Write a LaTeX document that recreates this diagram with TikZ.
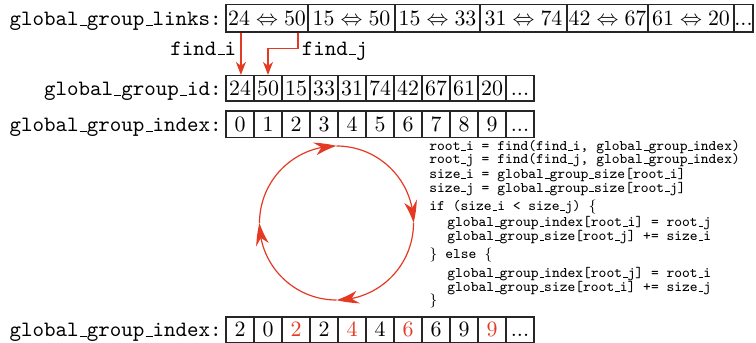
\documentclass[tikz,border=0pt]{standalone}
\usetikzlibrary{arrows.meta,calc,bending}
\definecolor{hl}{RGB}{228,58,36}
\newcommand\us{\leavevmode\kern0.12\fontcharwd\font`a\vbox{\hrule width0.6\fontcharwd\font`a}}
\newcommand\mydots{...}
\begin{document}
\begin{tikzpicture}[x=0.5pt,y=-0.5pt,
  cell/.style={draw=black!85,line width=0.6pt,inner sep=0pt,text height=7.05pt,text depth=0pt,
    font=\fontsize{10.95}{13}\selectfont},
  cw/.style={minimum width=#1*0.5pt},
  ch/.style={minimum height=#1*0.5pt},
  lab/.style={anchor=base east,inner sep=0pt,font=\fontsize{10.95}{13}\selectfont\ttfamily},
  code/.style={anchor=base west,inner sep=0pt,font=\fontsize{7.33}{9}\selectfont\ttfamily},
  fl/.style={draw=hl,line width=0.7pt,-{Stealth[length=6.5pt,width=5pt,inset=2pt]}},
  cl/.style={draw=hl,line width=0.6pt,-{Stealth[length=11pt,width=6.5pt,inset=3.5pt,bend]}}]
\useasboundingbox (0,0) rectangle (756,343);

% row 1: links
\foreach \c/\w/\t [count=\i] in {267/82/{$24\Leftrightarrow50$},351.5/87/{$15\Leftrightarrow50$},
  437.5/85/{$15\Leftrightarrow33$},523.5/87/{$31\Leftrightarrow74$},607.5/81/{$42\Leftrightarrow67$},
  691/86/{$61\Leftrightarrow20$},743.5/19/{\mydots}}
  \node[cell,cw=\w,ch=27.5] (l\i) at (\c,18.25) {\t};

% row 2: ids
\foreach \t [count=\i] in {24,50,15,33,31,74,42,67,61,20,\mydots}
  \node[cell,cw=28,ch=25.5] (id\i) at (226+28*\i-14,88.25) {\t};

% row 3: index
\foreach \t [count=\i] in {0,1,2,3,4,5,6,7,8,9,\mydots}
  \node[cell,cw=28,ch=26.5] (ix\i) at (226+28*\i-14,124.25) {\t};

% row 4: new index
\foreach \t [count=\i] in {2,0,\textcolor{hl}{2},2,\textcolor{hl}{4},4,\textcolor{hl}{6},6,9,\textcolor{hl}{9},\mydots}
  \node[cell,cw=28,ch=25.5] (nx\i) at (226+28*\i-14,329.75) {\t};

% labels
\node[lab] (lab1) at (222,25.3) {global\us group\us links:};
\node[lab] (lab2) at (222,95.3) {global\us group\us id:};
\node[lab] (lab3) at (222,131.3) {global\us group\us index:};
\node[lab] (lab4) at (222,336.8) {global\us group\us index:};

% find arrows
\coordinate (fi) at ($(l1.south west)+(15.5,0)$);
\draw[fl] (fi) -- (fi |- id1.north);
\coordinate (fj) at ($(l1.south east)+(-10.5,0)$);
\draw[fl] (fj) -- ++(0,16) -| (id2.north);
\node[anchor=base east,inner sep=0pt,font=\fontsize{10.95}{13}\selectfont\ttfamily] (fin) at (236.5,55) {find\us i};
\node[anchor=base west,inner sep=0pt,font=\fontsize{10.95}{13}\selectfont\ttfamily] (fjn) at (301.5,55) {find\us j};

% cycle
\coordinate (cc) at (336.5,223);
\foreach \a in {-180,-90,0,90}
  \draw[cl] ($(cc)+(\a:77)$) arc[start angle=\a, end angle=\a+90, radius=77];

% code
\node[code] (c1) at (429,150.5) {root\us i = find(find\us i, global\us group\us index)};
\node[code] (c2) at (429,163.5) {root\us j = find(find\us j, global\us group\us index)};
\node[code] (c3) at (429,178.5) {size\us i = global\us group\us size[root\us i]};
\node[code] (c4) at (429,192) {size\us j = global\us group\us size[root\us j]};
\node[code] (c5) at (429,210.5) {if (size\us i < size\us j) $\{$};
\node[code] (c6) at (447,226.5) {global\us group\us index[root\us i] = root\us j};
\node[code] (c7) at (447,240.5) {global\us group\us size[root\us j] += size\us i};
\node[code] (c8) at (429,258) {$\}$ else $\{$};
\node[code] (c9) at (447,277.5) {global\us group\us index[root\us j] = root\us i};
\node[code] (c10) at (447,291.5) {global\us group\us size[root\us i] += size\us j};
\node[code] (c11) at (429,304) {$\}$};
\end{tikzpicture}
\end{document}
